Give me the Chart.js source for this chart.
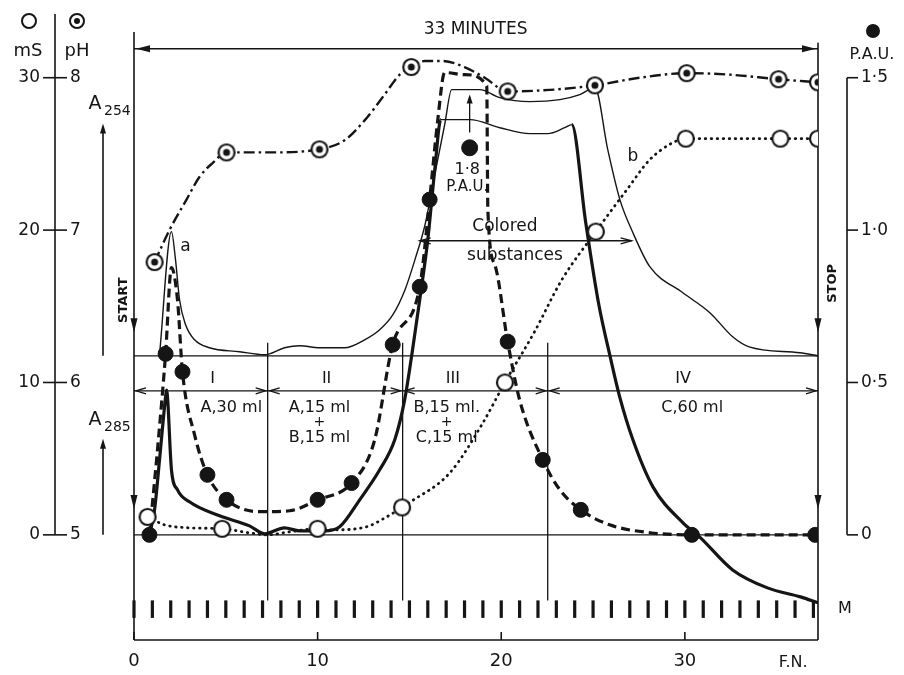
<!DOCTYPE html>
<html>
<head>
<meta charset="utf-8">
<script src="https://cdn.jsdelivr.net/npm/chart.js@4/dist/chart.umd.min.js"></script>
<style>
html, body { margin: 0; padding: 0; background: #fff; }
</style>
</head>
<body>
<canvas id="graph" width="904" height="675"></canvas>
<script>
// F.N. = fraction number. All y readings on the mS scale unless named pH / PAU.
const phX = [1.12, 1.93, 2.86, 3.57, 4.28, 5.04, 7.38, 10.1, 11.47, 12.56, 13.65, 14.47, 15.1, 15.83, 16.8, 18.0, 19.1, 20.35, 22.64, 25.1, 27.55, 30.1, 32.45, 35.1, 37.25];
const phY = [6.79, 7.0, 7.2, 7.35, 7.44, 7.51, 7.51, 7.53, 7.59, 7.72, 7.89, 8.02, 8.07, 8.11, 8.11, 8.07, 8.0, 7.91, 7.92, 7.95, 8.0, 8.03, 8.02, 7.99, 7.97];
const phMarkX = [1.12, 5.04, 10.1, 15.1, 20.35, 25.1, 30.1, 35.1, 37.25];
const phMarkY = [6.79, 7.51, 7.53, 8.07, 7.91, 7.95, 8.03, 7.99, 7.97];

const msX = [0.74, 1.66, 3.02, 4.8, 6.29, 7.28, 8.47, 10.0, 10.82, 12.67, 13.76, 14.6, 14.98, 17.2, 19.0, 20.2, 21.8, 23.3, 25.15, 26.84, 28.09, 29.35, 30.05, 35.2, 37.25];
const msY = [1.18, 0.66, 0.46, 0.4, 0.13, 0.0, 0.2, 0.4, 0.33, 0.53, 1.18, 1.8, 2.1, 4.07, 7.35, 10.0, 13.3, 16.74, 19.9, 22.65, 24.62, 25.74, 26.0, 26.0, 26.0];
const msMarkX = [0.74, 4.8, 10.0, 14.6, 20.2, 25.15, 30.05, 35.2, 37.25];
const msMarkY = [1.18, 0.4, 0.4, 1.8, 10.0, 19.9, 26.0, 26.0, 26.0];

const pauX = [0.84, 1.28, 1.72, 2.04, 2.37, 2.64, 3.3, 4.0, 5.04, 6.84, 8.47, 10.0, 11.85, 13.1, 14.09, 15.56, 16.1, 16.54, 16.92, 18.01, 19.21, 19.27, 19.65, 20.35, 21.0, 22.26, 23.19, 24.33, 25.9, 28.1, 30.38, 37.1];
const pauY = [0.0, 0.28, 0.594, 0.877, 0.77, 0.535, 0.328, 0.197, 0.115, 0.076, 0.079, 0.115, 0.17, 0.31, 0.624, 0.814, 1.1, 1.36, 1.517, 1.51, 1.474, 1.067, 0.886, 0.634, 0.443, 0.246, 0.148, 0.082, 0.033, 0.007, 0.0, 0.0];
const pauMarkX = [0.84, 1.72, 2.64, 4.0, 5.04, 10.0, 11.85, 14.09, 15.56, 16.1, 20.35, 22.26, 24.33, 30.38, 37.1];
const pauMarkY = [0.0, 0.594, 0.535, 0.197, 0.115, 0.115, 0.17, 0.624, 0.814, 1.1, 0.634, 0.246, 0.082, 0.0, 0.0];
// the 1.8 P.A.U. reading is drawn off-scale, at this height
const pauOffX = [18.28];
const pauOffY = [1.27];

const a254X = [1.39, 2.04, 2.26, 2.48, 2.81, 3.3, 4.11, 5.75, 7.11, 8.2, 9.02, 10.1, 11.47, 12.56, 13.38, 14.1, 14.76, 15.3, 15.85, 16.38, 16.92, 17.3, 18.83, 19.92, 21.55, 23.19, 24.28, 25.1, 25.8, 26.46, 27.17, 28.09, 29.89, 31.36, 32.6, 33.5, 36.27, 37.25];
const a254Y = [11.82, 19.9, 18.06, 15.43, 13.79, 12.8, 12.28, 12.02, 11.82, 12.28, 12.41, 12.28, 12.28, 12.8, 13.46, 14.45, 16.09, 18.06, 20.35, 23.64, 26.92, 29.22, 29.22, 28.69, 28.43, 28.56, 28.89, 29.35, 25.28, 22.0, 19.83, 17.6, 15.89, 14.58, 13.0, 12.34, 11.95, 11.75];

const a285X = [0.84, 1.12, 1.39, 1.72, 1.77, 2.04, 2.37, 3.02, 4.66, 6.29, 7.11, 8.2, 9.02, 10.38, 11.2, 12.29, 13.38, 14.2, 14.74, 15.17, 15.56, 16.0, 16.38, 16.71, 18.3, 19.92, 21.55, 22.53, 23.46, 23.84, 24.6, 25.3, 25.95, 26.45, 27.17, 28.26, 29.9, 30.8, 32.6, 34.5, 36.3, 37.25];
const a285Y = [0.0, 1.64, 4.92, 9.06, 9.5, 4.27, 2.95, 2.17, 1.25, 0.59, 0.07, 0.46, 0.26, 0.26, 0.53, 2.3, 4.27, 6.24, 8.86, 12.15, 15.43, 19.37, 23.97, 27.25, 27.25, 26.72, 26.33, 26.33, 26.72, 26.92, 20.5, 15.2, 11.6, 9.06, 6.24, 3.15, 0.79, -0.13, -2.3, -3.48, -4.07, -4.46];

const msTicks = [0, 10, 20, 30];
const phTicks = [5, 6, 7, 8];
const pauTicks = [0, 0.5, 1.0, 1.5];
const pauTickLabels = ['0', '0·5', '1·0', '1·5'];
const fnTicks = [0, 10, 20, 30];
const fnMax = 37.25;

const sectionBounds = [0, 7.28, 14.63, 22.53, fnMax];
const sectionNames = ['I', 'II', 'III', 'IV'];
const sectionNameX = [4.28, 10.49, 17.36, 29.9];
const bufferX = [5.3, 10.1, 17.03, 30.4];
const bufferLines = [['A,30 ml'], ['A,15 ml', '+', 'B,15 ml'], ['B,15 ml.', '+', 'C,15 ml'], ['C,60 ml']];

const ink = '#151515';
const font = '"DejaVu Sans", sans-serif';

function markerImg(r, inner) {
  const c = document.createElement('canvas');
  const s = 2 * r + 4;
  c.width = s; c.height = s;
  const g = c.getContext('2d');
  g.beginPath(); g.arc(s / 2, s / 2, r, 0, Math.PI * 2);
  g.fillStyle = '#fff'; g.fill();
  g.lineWidth = 2.2; g.strokeStyle = ink; g.stroke();
  if (inner) {
    g.beginPath(); g.arc(s / 2, s / 2, inner, 0, Math.PI * 2);
    g.fillStyle = ink; g.fill();
  }
  return c;
}
const phImg = markerImg(8, 3.5);
const msImg = markerImg(8, 0);

const pts = (xs, ys) => xs.map((v, i) => ({ x: v, y: ys[i] }));

function seg(ctx, x1, y1, x2, y2) {
  ctx.beginPath(); ctx.moveTo(x1, y1); ctx.lineTo(x2, y2); ctx.stroke();
}
function head(ctx, tx, ty, dx, dy, len, half, filled) {
  const bx = tx - dx * len, by = ty - dy * len;
  const px = -dy * half, py = dx * half;
  ctx.beginPath();
  ctx.moveTo(bx + px, by + py); ctx.lineTo(tx, ty); ctx.lineTo(bx - px, by - py);
  if (filled) { ctx.closePath(); ctx.fill(); } else ctx.stroke();
}
function text(ctx, s, x, y, size, align) {
  ctx.font = size + 'px ' + font;
  ctx.textAlign = align || 'center';
  ctx.textBaseline = 'middle';
  ctx.fillText(s, x, y);
}

const decor = {
  id: 'decor',
  beforeDatasetsDraw(chart) {
    const { ctx, scales: { x, y } } = chart;
    const X = v => x.getPixelForValue(v), Y = v => y.getPixelForValue(v);
    ctx.save();
    ctx.strokeStyle = ink; ctx.fillStyle = ink; ctx.lineWidth = 1.6;
    // frame
    seg(ctx, X(0), y.top, X(0), y.bottom);
    seg(ctx, X(fnMax), Y(32.3), X(fnMax), y.bottom);
    seg(ctx, X(0), y.bottom, X(fnMax), y.bottom);
    fnTicks.forEach(t => seg(ctx, X(t), y.bottom, X(t), y.bottom - 8));
    // 33 minutes arrow
    ctx.lineWidth = 1.3;
    seg(ctx, X(0), Y(31.9), X(fnMax), Y(31.9));
    head(ctx, X(0) + 2, Y(31.9), -1, 0, 14, 3.5, true);
    head(ctx, X(fnMax) - 2, Y(31.9), 1, 0, 14, 3.5, true);
    // baselines
    seg(ctx, X(0), Y(11.75), X(fnMax), Y(11.75));
    seg(ctx, X(0), Y(9.45), X(fnMax), Y(9.45));
    seg(ctx, X(0), Y(0), X(fnMax), Y(0));
    // section dividers and arrows
    sectionBounds.slice(1, 4).forEach(b => seg(ctx, X(b), Y(12.6), X(b), Y(-4.3)));
    for (let i = 0; i < 4; i++) {
      const a = X(sectionBounds[i]) + 2, b = X(sectionBounds[i + 1]) - 2;
      head(ctx, a, Y(9.45), -1, 0, 10, 3, false);
      head(ctx, b, Y(9.45), 1, 0, 10, 3, false);
    }
    // start / stop arrows on the frame
    [13.3, 1.7].forEach(v => {
      head(ctx, X(0), Y(v), 0, 1, 14, 3.5, true);
      head(ctx, X(fnMax), Y(v), 0, 1, 14, 3.5, true);
    });
    // colored substances arrow
    ctx.lineWidth = 1.3;
    seg(ctx, X(15.56), Y(19.3), X(27.1), Y(19.3));
    head(ctx, X(15.56), Y(19.3), -1, 0, 11, 3, false);
    head(ctx, X(27.1), Y(19.3), 1, 0, 11, 3, false);
    // 1.8 PAU arrow
    seg(ctx, X(18.28), Y(26.4), X(18.28), Y(28.75));
    head(ctx, X(18.28), Y(28.9), 0, -1, 9, 3, true);
    // fraction marks row
    ctx.lineWidth = 3.2;
    for (let n = 0; n <= 37; n++) seg(ctx, X(n), Y(-4.3), X(n), Y(-5.45));
    ctx.restore();
  },
  afterDraw(chart) {
    const { ctx, scales: { x, y, yPH, yPAU } } = chart;
    const X = v => x.getPixelForValue(v), Y = v => y.getPixelForValue(v);
    ctx.save();
    ctx.strokeStyle = ink; ctx.fillStyle = ink; ctx.lineWidth = 1.6;
    // left mS / pH axis
    const lx = 55;
    seg(ctx, lx, 14, lx, Y(0));
    msTicks.forEach((t, i) => {
      const yy = Y(t);
      seg(ctx, 43, yy, 67, yy);
      text(ctx, String(t), 40, yy, 17, 'right');
      text(ctx, String(phTicks[i]), 70, yPH.getPixelForValue(phTicks[i]), 17, 'left');
    });
    ctx.lineWidth = 2;
    ctx.beginPath(); ctx.arc(29, 21, 7, 0, Math.PI * 2); ctx.stroke();
    ctx.beginPath(); ctx.arc(77, 21, 7, 0, Math.PI * 2); ctx.stroke();
    ctx.beginPath(); ctx.arc(77, 21, 3, 0, Math.PI * 2); ctx.fill();
    text(ctx, 'mS', 28, 51, 18);
    text(ctx, 'pH', 77, 51, 18);
    // right PAU axis
    ctx.lineWidth = 1.6;
    const rx = 847;
    seg(ctx, rx, yPAU.getPixelForValue(1.5), rx, yPAU.getPixelForValue(0));
    pauTicks.forEach((t, i) => {
      const yy = yPAU.getPixelForValue(t);
      seg(ctx, rx, yy, rx + 11, yy);
      text(ctx, pauTickLabels[i], rx + 14, yy, 17, 'left');
    });
    ctx.beginPath(); ctx.arc(873, 31, 7, 0, Math.PI * 2); ctx.fill();
    text(ctx, 'P.A.U.', 872, 55, 16);
    // absorbance labels with arrows
    [[11.75, 27.0, 104, 'A', '254'], [0, 6.3, 420, 'A', '285']].forEach(([base, tip, ty, a, sub]) => {
      seg(ctx, 103, Y(base), 103, Y(tip) + 6);
      head(ctx, 103, Y(tip), 0, -1, 10, 3, true);
      text(ctx, a, 95, ty, 19);
      text(ctx, sub, 104, ty + 7, 14, 'left');
    });
    // x labels
    fnTicks.forEach(t => text(ctx, String(t), X(t), 661, 18));
    text(ctx, 'F.N.', X(35.9), 663, 16);
    text(ctx, 'M', 845, Y(-4.85), 16);
    text(ctx, '33 MINUTES', X(18.6), 30, 17);
    // section names and buffers
    sectionNames.forEach((s, i) => text(ctx, s, X(sectionNameX[i]), Y(10.25), 16));
    bufferLines.forEach((ls, i) => {
      ls.forEach((s, j) => text(ctx, s, X(bufferX[i]), Y(8.35 - j * 0.98), s === '+' ? 14 : 16));
    });
    // annotations
    text(ctx, 'a', X(2.8), Y(18.9), 17);
    text(ctx, 'b', X(27.17), Y(24.8), 17);
    text(ctx, '1·8', X(18.15), Y(23.95), 16);
    text(ctx, 'P.A.U.', X(18.15), Y(22.8), 15);
    text(ctx, 'Colored', X(20.2), Y(20.2), 17);
    text(ctx, 'substances', X(20.75), Y(18.35), 17);
    // rotated start / stop
    [['START', X(0) - 10, Y(15.4), 13], ['STOP', X(fnMax) + 15, Y(16.5), 13]].forEach(([s, px, py, sz]) => {
      ctx.save();
      ctx.translate(px, py); ctx.rotate(-Math.PI / 2);
      ctx.font = 'bold ' + sz + 'px ' + font;
      ctx.textAlign = 'center'; ctx.textBaseline = 'middle';
      ctx.fillText(s, 0, 0);
      ctx.restore();
    });
    ctx.restore();
  }
};

const lineSet = (label, data, axis, extra) => Object.assign({
  label, data, yAxisID: axis, showLine: true, pointRadius: 0,
  borderColor: ink, backgroundColor: ink, cubicInterpolationMode: 'monotone', order: 2
}, extra);

new Chart(document.getElementById('graph'), {
  type: 'scatter',
  data: {
    datasets: [
      { label: 'pH', data: pts(phMarkX, phMarkY), yAxisID: 'yPH', pointStyle: phImg, order: 0 },
      { label: 'mS', data: pts(msMarkX, msMarkY), yAxisID: 'y', pointStyle: msImg, order: 0 },
      { label: 'P.A.U.', data: pts(pauMarkX, pauMarkY), yAxisID: 'yPAU', pointStyle: 'circle', pointRadius: 7.5,
        backgroundColor: ink, borderColor: ink, order: 0 },
      { label: '1.8 P.A.U.', data: pts(pauOffX, pauOffY), yAxisID: 'yPAU', pointStyle: 'circle', pointRadius: 8,
        backgroundColor: ink, borderColor: ink, order: 0 },
      lineSet('pH line', pts(phX, phY), 'yPH', { borderWidth: 2.4, borderDash: [11, 4, 2.5, 4] }),
      lineSet('mS line', pts(msX, msY), 'y', { borderWidth: 2.8, borderDash: [0.5, 5.5], borderCapStyle: 'round' }),
      lineSet('P.A.U. line', pts(pauX, pauY), 'yPAU', { borderWidth: 3.2, borderDash: [9, 5] }),
      lineSet('A254', pts(a254X, a254Y), 'y', { borderWidth: 1.4 }),
      lineSet('A285', pts(a285X, a285Y), 'y', { borderWidth: 3.2,
        segment: { borderWidth: c => (c.p0.parsed.y > 26 && c.p1.parsed.y > 26) ? 1.4 : 3.2 } })
    ]
  },
  options: {
    responsive: false,
    devicePixelRatio: 1,
    animation: false,
    layout: { padding: { left: 134, right: 86, top: 32, bottom: 35 } },
    plugins: { legend: { display: false }, tooltip: { enabled: false } },
    scales: {
      x: { type: 'linear', min: 0, max: fnMax, display: false },
      y: { type: 'linear', min: -6.9, max: 33.0, display: false },
      yPH: { type: 'linear', min: 4.31, max: 8.30, display: false },
      yPAU: { type: 'linear', min: -0.345, max: 1.65, display: false }
    }
  },
  plugins: [decor]
});
</script>
</body>
</html>
